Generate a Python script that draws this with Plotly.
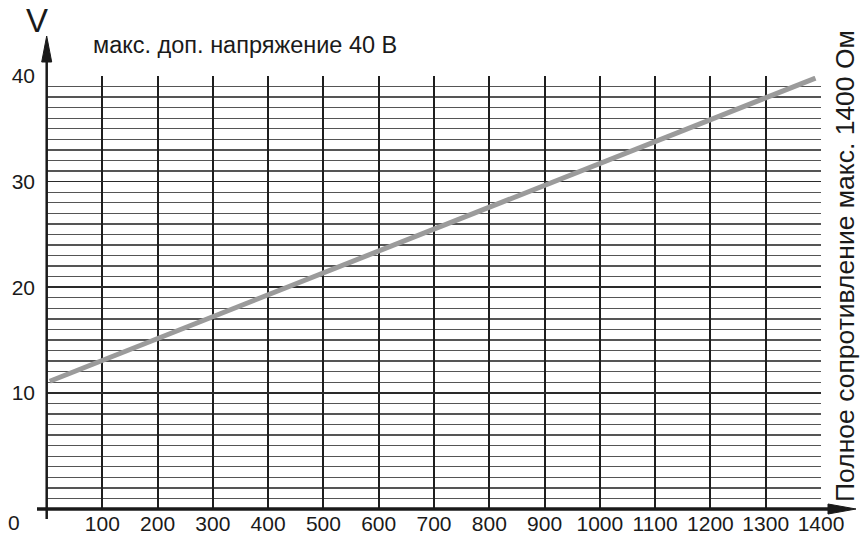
import plotly.graph_objects as go

# Data
resistance = [5, 1390]          # Ohm
voltage = [11.1, 39.8]          # V
x_ticks = [100, 200, 300, 400, 500, 600, 700, 800, 900, 1000, 1100, 1200, 1300, 1400]
y_ticks = [10, 20, 30, 40]
y_minor = list(range(0, 41))

W, H = 867, 542
L, R, T, B = 47, 46, 76, 33
pw, ph = W - L - R, H - T - B

def px(x):
    return (x - L) / pw

def py(y):
    return (H - B - y) / ph

FONT = "Liberation Sans, Arial, sans-serif"

fig = go.Figure()
fig.add_trace(go.Scatter(
    x=resistance, y=voltage, mode="lines",
    line=dict(color="#9b9b9b", width=5),
    hoverinfo="skip", showlegend=False,
))

fig.update_xaxes(
    range=[0, 1400], tickvals=x_ticks, ticktext=[str(v) for v in x_ticks],
    showgrid=True, gridcolor="#1e1e1e", gridwidth=2,
    zeroline=False, showline=False, ticks="", automargin=False,
    ticklabelstandoff=0,
    tickfont=dict(family=FONT, size=21, color="#1a1a1a"),
)
fig.update_yaxes(
    range=[-1, 40], tickvals=y_ticks, ticktext=[str(v) for v in y_ticks],
    showgrid=True, gridcolor="#2a2a2a", gridwidth=1.6,
    minor=dict(tickvals=y_minor, showgrid=True, gridcolor="#555555", gridwidth=1.3),
    zeroline=False, showline=False, ticks="", automargin=False,
    ticklabelstandoff=11,
    tickfont=dict(family=FONT, size=21, color="#1a1a1a"),
)

shapes = []
# x axis line
shapes.append(dict(type="line", xref="paper", yref="paper",
                   x0=px(37), x1=px(832), y0=py(509), y1=py(509),
                   line=dict(color="#1a1a1a", width=3.5)))
# x arrow head
shapes.append(dict(type="path", xref="paper", yref="paper",
                   path=f"M {px(828)} {py(504)} L {px(856)} {py(509)} L {px(828)} {py(514)} Z",
                   fillcolor="#1a1a1a", line=dict(color="#1a1a1a", width=1)))
# y axis line
shapes.append(dict(type="line", xref="paper", yref="paper",
                   x0=px(46.7), x1=px(46.7), y0=py(519), y1=py(58),
                   line=dict(color="#1a1a1a", width=2.5)))
# y arrow head
shapes.append(dict(type="path", xref="paper", yref="paper",
                   path=f"M {px(41.7)} {py(62)} L {px(46.7)} {py(36)} L {px(51.7)} {py(62)} Z",
                   fillcolor="#1a1a1a", line=dict(color="#1a1a1a", width=1)))

annotations = [
    dict(text="V", xref="paper", yref="paper", x=px(37), y=py(21),
         xanchor="center", yanchor="middle", showarrow=False,
         font=dict(family=FONT, size=33, color="#1a1a1a")),
    dict(text="макс. доп. напряжение 40 В", xref="paper", yref="paper",
         x=px(91), y=py(45), xanchor="left", yanchor="middle", showarrow=False,
         font=dict(family=FONT, size=23.5, color="#1a1a1a")),
    dict(text="0", xref="paper", yref="paper", x=px(14), y=py(522),
         xanchor="center", yanchor="middle", showarrow=False,
         font=dict(family=FONT, size=21, color="#1a1a1a")),
    dict(text="Полное сопротивление макс. 1400 Ом", xref="paper", yref="paper",
         x=px(845), y=py(266), xanchor="center", yanchor="middle", showarrow=False,
         textangle=-90,
         font=dict(family=FONT, size=26.5, color="#1a1a1a")),
]

fig.update_layout(
    width=W, height=H,
    margin=dict(l=L, r=R, t=T, b=B, pad=0, autoexpand=False),
    paper_bgcolor="white", plot_bgcolor="white",
    shapes=shapes, annotations=annotations,
    showlegend=False,
)

fig.write_html(
    "out.html",
    config={"displayModeBar": False, "staticPlot": True},
    post_script="document.body.style.margin='0';document.body.style.overflow='hidden';",
)
